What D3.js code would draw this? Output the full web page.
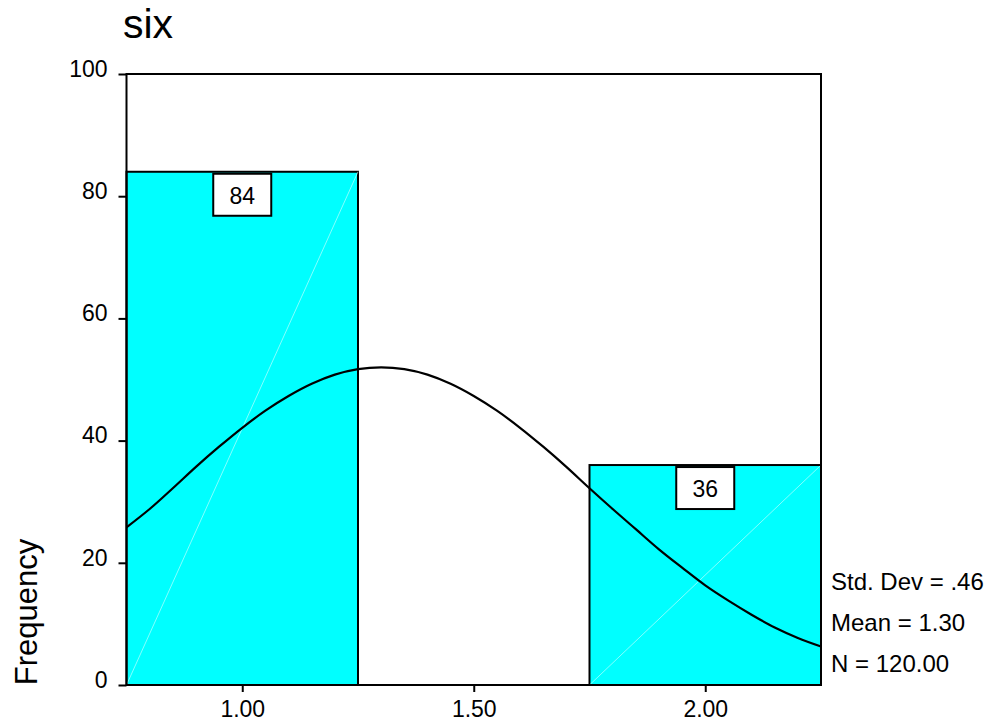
<!DOCTYPE html>
<html>
<head>
<meta charset="utf-8">
<script src="https://cdnjs.cloudflare.com/ajax/libs/d3/7.8.5/d3.min.js"></script>
<style>
  body { margin: 0; background: #fff; }
  text { font-family: "Liberation Sans", Arial, sans-serif; fill: #000; }
</style>
</head>
<body>
<svg id="chart" width="991" height="726"></svg>
<script>
// histogram bins (lower edge, upper edge, count)
var binStart = [0.75, 1.75];
var binEnd = [1.25, 2.25];
var counts = [84, 36];

// normal curve
var curveX = [0.75, 0.80, 0.85, 0.90, 0.95, 1.00, 1.05, 1.10, 1.15, 1.20, 1.25, 1.30,
              1.35, 1.40, 1.45, 1.50, 1.55, 1.60, 1.65, 1.70, 1.75, 1.80, 1.85, 1.90,
              1.95, 2.00, 2.05, 2.10, 2.15, 2.20, 2.25];
var curveY = [25.8, 28.8, 32.2, 35.7, 39.0, 42.1, 44.9, 47.3, 49.3, 50.8, 51.7, 52.0,
              51.7, 50.8, 49.3, 47.3, 44.9, 42.1, 39.0, 35.7, 32.2, 28.8, 25.5, 22.2,
              19.2, 16.3, 13.8, 11.5, 9.4, 7.7, 6.3];

var xTicks = [1.00, 1.50, 2.00];
var yTicks = [0, 20, 40, 60, 80, 100];
var stats = ["Std. Dev = .46", "Mean = 1.30", "N = 120.00"];

var plotL = 126.5, plotR = 821, plotT = 74, plotB = 685;

var x = d3.scaleLinear().domain([0.75, 2.25]).range([plotL, plotR]);
var y = d3.scaleLinear().domain([0, 100]).range([plotB, plotT]);

var svg = d3.select("#chart");

svg.append("text")
  .attr("x", 123)
  .attr("y", 38)
  .style("font-size", "41px")
  .text("six");

// bars
var bars = svg.append("g").selectAll("g")
  .data(counts)
  .enter()
  .append("g");

bars.append("rect")
  .attr("x", function(d, i) { return x(binStart[i]); })
  .attr("y", function(d) { return y(d); })
  .attr("width", function(d, i) { return x(binEnd[i]) - x(binStart[i]); })
  .attr("height", function(d) { return y(0) - y(d); })
  .style("fill", "#00ffff")
  .style("stroke", "#000")
  .style("stroke-width", "2px");

// faint diagonal artefacts inside the bars
bars.append("line")
  .attr("x1", function(d, i) { return x(binStart[i]); })
  .attr("y1", y(0))
  .attr("x2", function(d, i) { return x(binEnd[i]); })
  .attr("y2", function(d) { return y(d); })
  .style("stroke", "#dcffff")
  .style("stroke-width", "0.6px");

// normal curve
var line = d3.line()
  .x(function(d, i) { return x(d); })
  .y(function(d, i) { return y(curveY[i]); })
  .curve(d3.curveMonotoneX);

svg.append("path")
  .datum(curveX)
  .attr("d", line)
  .style("fill", "none")
  .style("stroke", "#000")
  .style("stroke-width", "2.2px");

// count labels
var labels = svg.append("g").selectAll("g")
  .data(counts)
  .enter()
  .append("g")
  .attr("transform", function(d, i) {
    return "translate(" + x((binStart[i] + binEnd[i]) / 2) + "," + (y(d) + 2) + ")";
  });

labels.append("rect")
  .attr("x", -29)
  .attr("y", 0)
  .attr("width", 58)
  .attr("height", 42)
  .style("fill", "#fff")
  .style("stroke", "#000")
  .style("stroke-width", "2px");

labels.append("text")
  .attr("y", 30)
  .style("text-anchor", "middle")
  .style("font-size", "23px")
  .text(function(d) { return d; });

// frame
svg.append("rect")
  .attr("x", plotL)
  .attr("y", plotT)
  .attr("width", plotR - plotL)
  .attr("height", plotB - plotT)
  .style("fill", "none")
  .style("stroke", "#000")
  .style("stroke-width", "2px");

// y axis
var yAxis = svg.append("g")
  .attr("transform", "translate(" + plotL + ",0)")
  .call(d3.axisLeft(y).tickValues(yTicks).tickSize(8).tickPadding(11).tickFormat(d3.format("d")));
yAxis.select(".domain").remove();
yAxis.selectAll("line").style("stroke", "#000").style("stroke-width", "2px");
yAxis.selectAll("text").style("font-size", "23px").attr("dy", "0.1em");

// x axis
var xAxis = svg.append("g")
  .attr("transform", "translate(0," + plotB + ")")
  .call(d3.axisBottom(x).tickValues(xTicks).tickSize(7).tickPadding(9).tickFormat(d3.format(".2f")));
xAxis.select(".domain").remove();
xAxis.selectAll("line").style("stroke", "#000").style("stroke-width", "2px");
xAxis.selectAll("text").style("font-size", "23px");

svg.append("text")
  .attr("transform", "translate(37,612) rotate(-90)")
  .style("text-anchor", "middle")
  .style("font-size", "31px")
  .text("Frequency");

svg.append("g").selectAll("text")
  .data(stats)
  .enter()
  .append("text")
  .attr("x", 831)
  .attr("y", function(d, i) { return 590 + i * 41; })
  .style("font-size", "24px")
  .text(function(d) { return d; });
</script>
</body>
</html>
